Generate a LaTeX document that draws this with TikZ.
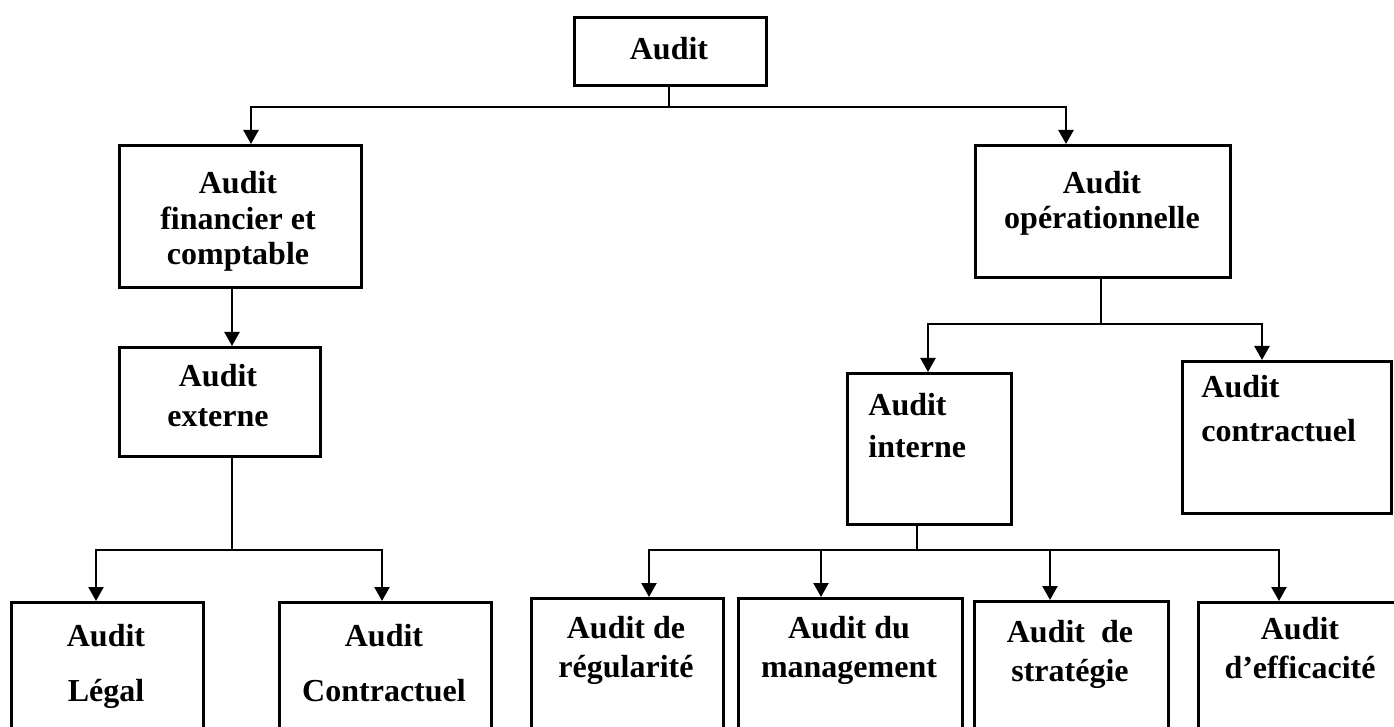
\documentclass[tikz,border=0pt]{standalone}
\usepackage{fontspec}
\setmainfont{Liberation Serif}
\usetikzlibrary{arrows.meta}
\begin{document}
\begin{tikzpicture}[x=0.5pt,y=-0.5pt,
  box/.style={draw, line width=1.3pt, rectangle, inner sep=0pt, anchor=north west},
  lbl/.style={font=\bfseries\fontsize{16}{#1}\selectfont, inner sep=0pt, anchor=base, align=center},
  lbl/.default=19.5pt,
  lbll/.style={font=\bfseries\fontsize{16}{#1}\selectfont, inner sep=0pt, anchor=base west, align=left},
  conn/.style={line width=1.2pt},
  arr/.style={conn, -{Triangle[width=7.5pt,length=7pt]}}]
\useasboundingbox (0,0) rectangle (1394,727);
\clip (0,0) rectangle (1394,727);
% boxes
\node[box, minimum width=96pt, minimum height=34pt] (top) at (573,16) {};
\node[box, minimum width=121pt, minimum height=71pt] (fin) at (118,144) {};
\node[box, minimum width=127.5pt, minimum height=66pt] (ope) at (974,144) {};
\node[box, minimum width=100.5pt, minimum height=54.5pt] (ext) at (118,346) {};
\node[box, minimum width=82pt, minimum height=75.5pt] (int) at (846,372) {};
\node[box, minimum width=104.5pt, minimum height=76pt] (con) at (1181,360) {};
\node[box, minimum width=96pt, minimum height=100pt] (leg) at (10,601) {};
\node[box, minimum width=106pt, minimum height=100pt] (ctr) at (278,601) {};
\node[box, minimum width=96pt, minimum height=100pt] (reg) at (530,597) {};
\node[box, minimum width=112pt, minimum height=100pt] (man) at (737,597) {};
\node[box, minimum width=97pt, minimum height=100pt] (str) at (973,600) {};
\node[box, minimum width=150pt, minimum height=100pt] (eff) at (1197,601) {};
% texts (anchored at the baseline of the last line)
\node[lbl] (ttop) at (669,60) {Audit};
\node[lbl=17.75pt] (tfin) at (238,265) {Audit\\financier et\\comptable};
\node[lbl=17.5pt] (tope) at (1102,229) {Audit\\opérationnelle};
\node[lbl=20pt] (text) at (218,427) {Audit\\externe};
\node[lbll=21pt] (tint) at (868,458) {Audit\\interne};
\node[lbll=22pt] (tcon) at (1201,442) {Audit\\contractuel};
\node[lbl=27.5pt] (tleg) at (106,701) {Audit\\Légal};
\node[lbl=27.5pt] (tctr) at (384,701) {Audit\\Contractuel};
\node[lbl] (treg) at (626,677) {Audit de\\régularité};
\node[lbl] (tman) at (849,677) {Audit du\\management};
\node[lbl] (tstr) at (1070,681) {Audit\ \ de\\stratégie};
\node[lbl] (teff) at (1300,678) {Audit\\d’efficacité};
% junction coordinates
\coordinate (j0) at (669,107);
\coordinate (a1) at (251,107);
\coordinate (a2) at (1066,107);
\coordinate (b1) at (232,320);
\coordinate (j2) at (232,550);
\coordinate (c1) at (96,550);
\coordinate (c2) at (382,550);
\coordinate (j3) at (1101,324);
\coordinate (e1) at (928,324);
\coordinate (e2) at (1262,324);
\coordinate (j4) at (917,550);
\coordinate (d1) at (649,550);
\coordinate (d2) at (821,550);
\coordinate (d3) at (1050,550);
\coordinate (d4) at (1279,550);
% connectors
\draw[conn] (j0 |- top.south) -- (j0);
\draw[arr] (j0) -| (a1 |- fin.north);
\draw[arr] (j0) -| (a2 |- ope.north);
\draw[arr] (b1 |- fin.south) -- (b1 |- ext.north);
\draw[conn] (j2 |- ext.south) -- (j2);
\draw[arr] (j2) -| (c1 |- leg.north);
\draw[arr] (j2) -| (c2 |- ctr.north);
\draw[conn] (j3 |- ope.south) -- (j3);
\draw[arr] (j3) -| (e1 |- int.north);
\draw[arr] (j3) -| (e2 |- con.north);
\draw[conn] (j4 |- int.south) -- (j4);
\draw[arr] (j4) -| (d1 |- reg.north);
\draw[arr] (j4) -| (d2 |- man.north);
\draw[arr] (j4) -| (d3 |- str.north);
\draw[arr] (j4) -| (d4 |- eff.north);
\end{tikzpicture}
\end{document}
